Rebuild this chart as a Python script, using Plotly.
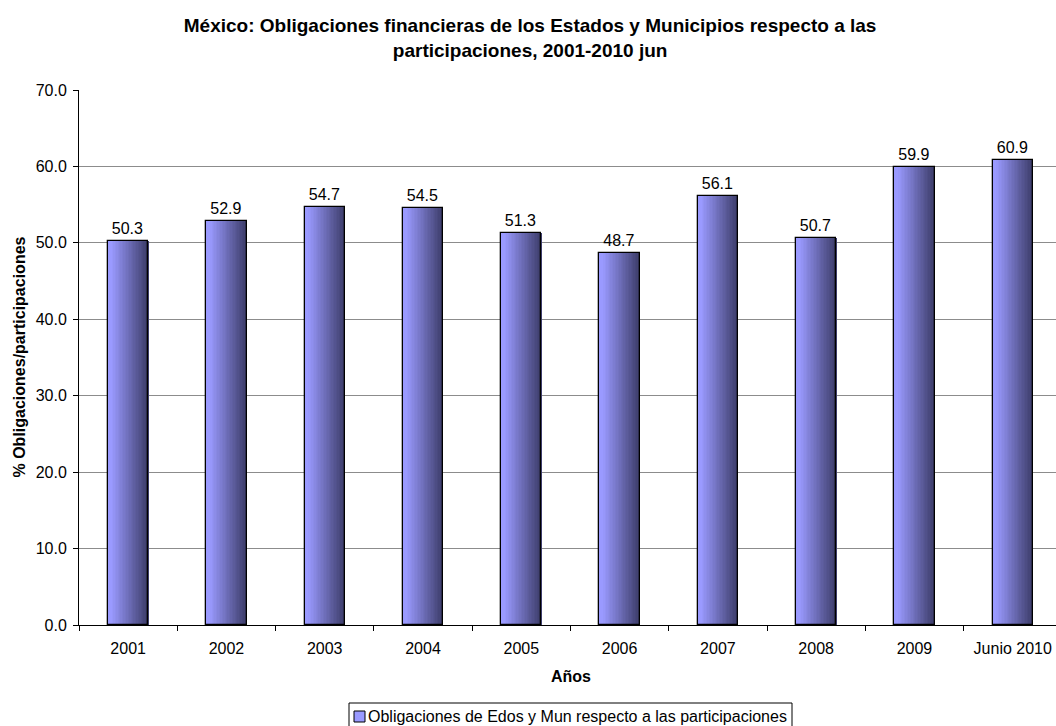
import plotly.graph_objects as go

# Data
categories = ["2001", "2002", "2003", "2004", "2005", "2006", "2007", "2008", "2009", "Junio 2010"]
ratios = [50.3, 52.9, 54.7, 54.5, 51.3, 48.7, 56.1, 50.7, 59.9, 60.9]
y_ticks = [0, 10, 20, 30, 40, 50, 60, 70]

series_name = "Obligaciones de Edos y Mun respecto a las participaciones"
title_text = ("<b>México: Obligaciones financieras de los Estados y Municipios respecto a las<br>"
              "participaciones, 2001-2010 jun</b>")

FONT = "Arial"
W, H = 1056, 726
ML, MR, MT, MB = 79, 0, 90, 101
PW, PH = W - ML - MR, H - MT - MB
BAR_WIDTH = 0.41
N_STRIPS = 28
LIGHT = (154, 154, 255)
DARK = (62, 62, 108)


def lerp_color(t):
    c = [round(a + (b - a) * t) for a, b in zip(LIGHT, DARK)]
    return f"rgb({c[0]},{c[1]},{c[2]})"


def px_x(x):
    return (x - ML) / PW


def px_y(y):
    return (H - MB - y) / PH


fig = go.Figure()

# Horizontal shading: each bar is built from narrow vertical strips
strip_w = BAR_WIDTH / N_STRIPS
for i in range(N_STRIPS):
    t = i / (N_STRIPS - 1)
    t = max(0.0, (t - 0.08) / 0.92)
    fig.add_trace(go.Bar(
        x=categories, y=ratios,
        width=strip_w * 1.15,
        offset=-BAR_WIDTH / 2 + i * strip_w,
        marker=dict(color=lerp_color(t), line=dict(width=0)),
        showlegend=False, hoverinfo="skip",
    ))

# Outline and value labels
fig.add_trace(go.Bar(
    x=categories, y=ratios,
    width=BAR_WIDTH, offset=-BAR_WIDTH / 2,
    marker=dict(color="rgba(0,0,0,0)", line=dict(color="black", width=1.3)),
    text=[f"{v:.1f}" for v in ratios],
    textposition="outside",
    textfont=dict(family=FONT, size=16, color="black"),
    cliponaxis=False,
    showlegend=False,
))

# Axis titles
fig.add_annotation(text="<b>Años</b>", xref="paper", yref="paper",
                   x=px_x(571), y=px_y(676), xanchor="center", yanchor="middle",
                   showarrow=False, font=dict(family=FONT, size=16, color="black"))
fig.add_annotation(text="<b>% Obligaciones/participaciones</b>", xref="paper", yref="paper",
                   x=px_x(19), y=0.5, xanchor="center", yanchor="middle", textangle=-90,
                   showarrow=False, font=dict(family=FONT, size=16, color="black"))

# Legend box below the axis title
fig.add_shape(type="rect", xref="paper", yref="paper",
              x0=px_x(349), x1=px_x(792), y0=px_y(740), y1=px_y(703),
              line=dict(color="black", width=1), fillcolor="white", layer="above")
fig.add_shape(type="rect", xref="paper", yref="paper",
              x0=px_x(354), x1=px_x(365), y0=px_y(722), y1=px_y(711),
              line=dict(color="black", width=1), fillcolor="rgb(154,154,255)", layer="above")
fig.add_annotation(text=series_name, xref="paper", yref="paper",
                   x=px_x(366), y=px_y(716),
                   xanchor="left", yanchor="middle", showarrow=False,
                   font=dict(family=FONT, size=16, color="black"))

fig.update_layout(
    width=W, height=H,
    margin=dict(l=ML, r=MR, t=MT, b=MB),
    paper_bgcolor="white", plot_bgcolor="white",
    barmode="overlay",
    showlegend=False,
    font=dict(family=FONT, size=16, color="black"),
    title=dict(text=title_text, x=0.502, xanchor="center", y=1 - 32 / H, yanchor="middle",
               font=dict(family=FONT, size=19, color="black")),
    xaxis=dict(
        type="category", range=[-0.5, 9.44],
        tickson="boundaries", ticks="outside", ticklen=5, tickcolor="black",
        ticklabelstandoff=9,
        showline=True, linecolor="black", linewidth=1,
        showgrid=False,
        tickfont=dict(family=FONT, size=16),
    ),
    yaxis=dict(
        range=[0, 70], tickvals=y_ticks, tickformat=".1f",
        ticks="outside", ticklen=5, tickcolor="black",
        ticklabelstandoff=3,
        showline=True, linecolor="black", linewidth=1,
        showgrid=True, gridcolor="#8c8c8c", gridwidth=1,
        zeroline=False,
        tickfont=dict(family=FONT, size=16),
    ),
    bargap=0,
)

fig.write_html("out.html")
